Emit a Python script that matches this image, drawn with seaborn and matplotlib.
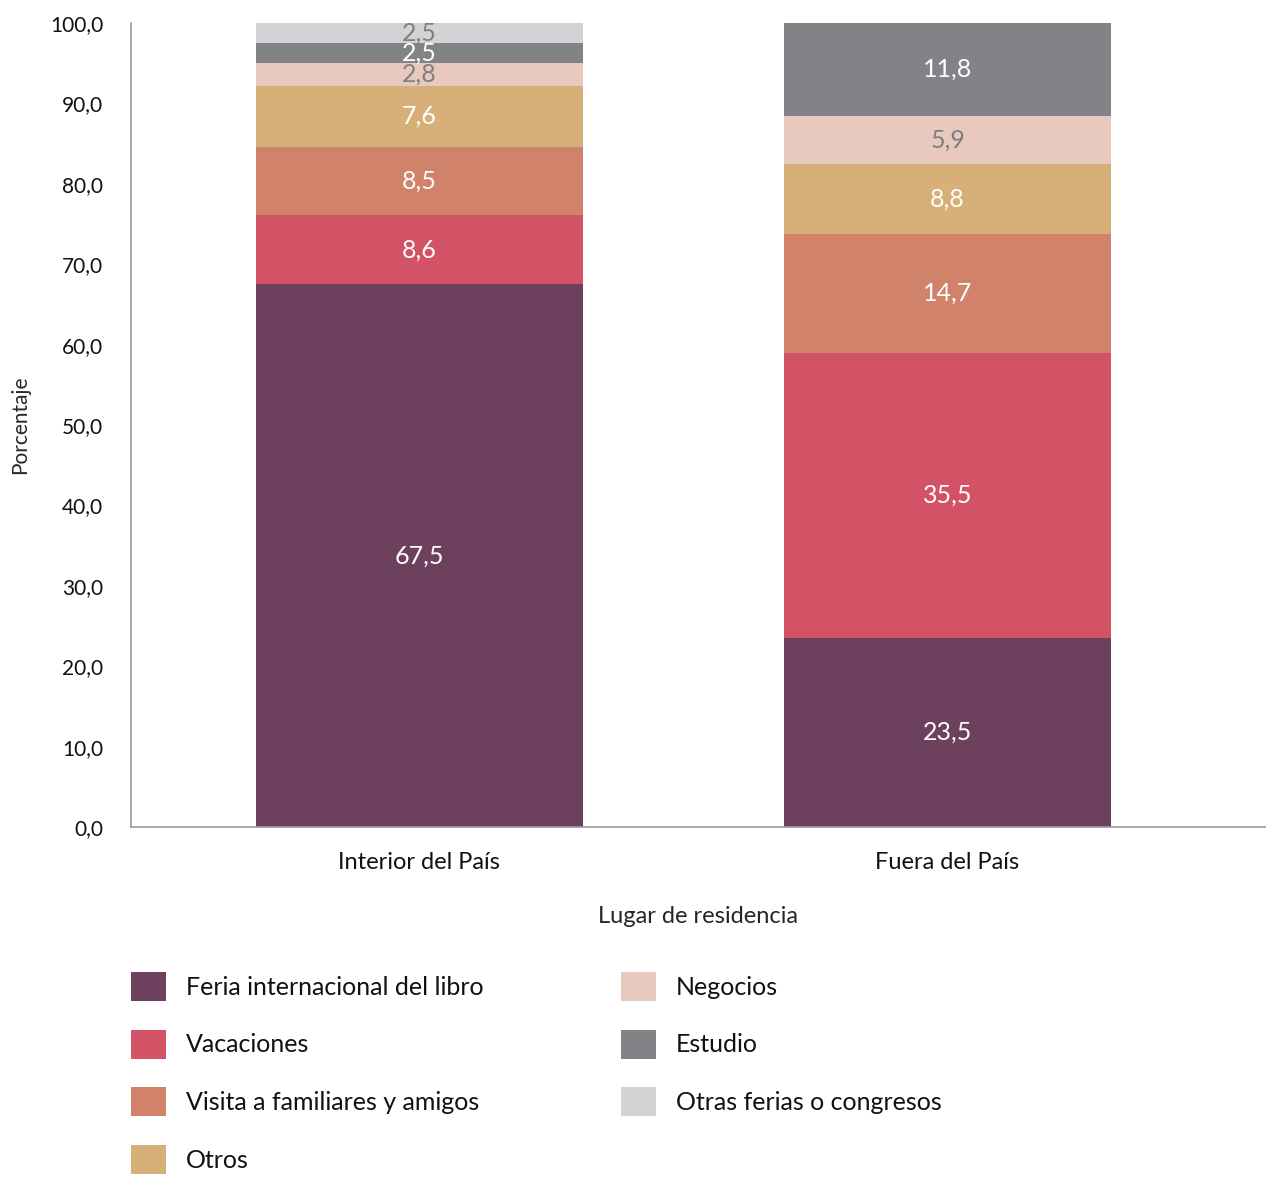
import matplotlib
matplotlib.use('Agg')
import matplotlib.pyplot as plt
import seaborn as sns
import pandas as pd
from matplotlib.patches import Patch

lugares = ['Interior del País', 'Fuera del País']
motivos = ['Feria internacional del libro', 'Vacaciones', 'Visita a familiares y amigos',
           'Otros', 'Negocios', 'Estudio', 'Otras ferias o congresos']
interior = [67.5, 8.6, 8.5, 7.6, 2.8, 2.5, 2.5]
fuera = [23.5, 35.5, 14.7, 8.8, 5.9, 11.8, 0.0]
yticks = [0, 10, 20, 30, 40, 50, 60, 70, 80, 90, 100]

colores = ['#6D415E', '#D25365', '#D0836A', '#D6B078', '#E7C9BD', '#838387', '#D2D3D5']
color_etiqueta = ['white', 'white', 'white', 'white', '#7f7f7f', 'white', '#7f7f7f']

sns.set_theme(style='white')
plt.rcParams['font.family'] = ['Lato', 'DejaVu Sans']
plt.rcParams['text.color'] = '#111111'

df = pd.DataFrame({lugares[0]: interior, lugares[1]: fuera}, index=motivos)
acum = df.cumsum()

fig = plt.figure(figsize=(12.66, 11.78), dpi=100)
ax = fig.add_axes([131 / 1266, 1 - 827 / 1178, 1 - 131 / 1266, (827 - 23) / 1178])

# barras apiladas: se dibuja el acumulado de arriba hacia abajo
for i in reversed(range(len(motivos))):
    capa = pd.DataFrame({'lugar': lugares, 'valor': acum.iloc[i].values})
    sns.barplot(data=capa, x='lugar', y='valor', order=lugares, color=colores[i],
                saturation=1, width=0.62, errorbar=None, linewidth=0, ax=ax)

for i in range(len(motivos)):
    for j in range(len(lugares)):
        v = df.iloc[i, j]
        if v <= 0:
            continue
        y = acum.iloc[i, j] - v / 2
        ax.text(j, y, f'{v:.1f}'.replace('.', ','), ha='center', va='center',
                fontsize=18, color=color_etiqueta[i])

ax.set_xlim(-0.546, 1.603)
ax.set_ylim(0, 100)
ax.set_yticks(yticks)
ax.set_yticklabels([f'{t:.1f}'.replace('.', ',') for t in yticks])
ax.tick_params(axis='y', length=0, pad=20, labelsize=15, labelcolor='#111111')
ax.tick_params(axis='x', length=0, pad=18, labelsize=17, labelcolor='#111111')
ax.set_xlabel('Lugar de residencia', fontsize=17, labelpad=24)
ax.set_ylabel('Porcentaje', fontsize=15, labelpad=14)

sns.despine(ax=ax)
for s in ['left', 'bottom']:
    ax.spines[s].set_color('#9a9a9a')
    ax.spines[s].set_linewidth(1.2)

handles = [Patch(facecolor=c, edgecolor='none', label=m) for c, m in zip(colores, motivos)]
opciones = dict(loc='upper left', frameon=False, fontsize=18, handlelength=1.4,
                handleheight=1.4, handletextpad=0.8, labelspacing=1.15, borderpad=0,
                borderaxespad=0)
fig.legend(handles=handles[:4], bbox_to_anchor=(131 / 1266, 1 - 972 / 1178), **opciones)
fig.legend(handles=handles[4:], bbox_to_anchor=(621 / 1266, 1 - 972 / 1178), **opciones)

fig.savefig('out.png', dpi=100)
